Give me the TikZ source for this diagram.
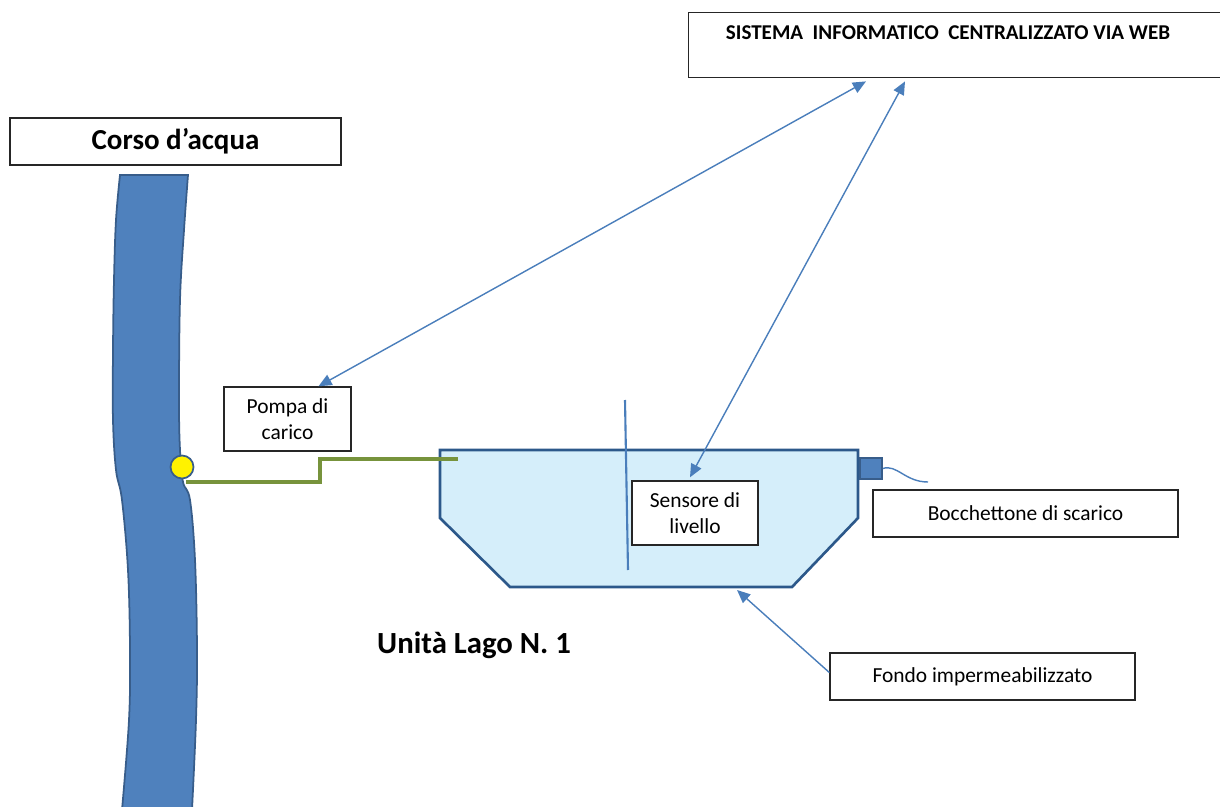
\documentclass[tikz,border=0pt]{standalone}
\usepackage{fontspec}
\setmainfont{Carlito}
\usetikzlibrary{arrows.meta}
\usetikzlibrary{calc}
\usetikzlibrary{positioning}

\definecolor{riverblue}{RGB}{79,129,189}
\definecolor{riveredge}{RGB}{56,93,138}
\definecolor{tankfill}{RGB}{213,238,250}
\definecolor{tankedge}{RGB}{44,88,138}
\definecolor{linkblue}{RGB}{74,126,187}
\definecolor{pipegreen}{RGB}{119,147,60}

\tikzset{
  box/.style={rectangle, draw=black!85, line width=0.8pt, fill=white,
    inner sep=0pt, align=center, font=\fontsize{12.2}{15}\selectfont},
  link/.style={draw=linkblue, line width=0.8pt,
    >={Triangle[length=7.5pt,width=6.5pt]}},
}

\begin{document}
\begin{tikzpicture}[x=0.02cm, y=-0.02cm]
  \useasboundingbox (0,0) rectangle (1220,807);

  % corso d'acqua
  \draw[fill=riverblue, draw=riveredge, line width=1pt]
    plot[smooth, tension=0.6] coordinates {(188,175) (184,230) (180,300)
      (179,400) (180,450) (183,482) (190,500) (195,560) (197,650)
      (196,720) (192,810)}
    -- plot[smooth, tension=0.6] coordinates {(122,810) (129,720)
      (130,650) (128,570) (122,500) (116,470) (113,420) (113,350)
      (114,280) (116,220) (120,175)}
    -- cycle;
  \node[box, font=\fontsize{16.5}{19}\selectfont\bfseries,
    minimum width=6.62cm, minimum height=0.94cm] (corso) at (175.5,141.5)
    {Corso d’acqua};

  % vasca
  \draw[fill=tankfill, draw=tankedge, line width=1.5pt]
    (440,450) -- (858,450) -- (858,518) -- (792,587) -- (510,587)
    -- (440,518) -- cycle;
  \coordinate (tankbot) at (737,590);
  \draw[linkblue, line width=1.2pt] (625,400) -- (628,570);

  % tubo di carico
  \node[circle, fill=yellow, draw=riveredge, line width=1pt,
    minimum size=0.46cm, inner sep=0pt] (pompa) at (182,467) {};
  \coordinate (pipeA) at (186,482);
  \coordinate (pipeB) at (458,459);
  \draw[pipegreen, line width=2.2pt] (pipeA) -- (320,482) -- (320,459)
    -- (pipeB);

  \node[box, minimum width=2.54cm, minimum height=1.28cm] (pompabox)
    at (287.5,419) {Pompa di\\carico};
  \node[box, minimum width=2.52cm, minimum height=1.28cm] (sensore)
    at (695,513) {Sensore di\\livello};

  % scarico
  \node[rectangle, fill=riverblue, draw=riveredge, line width=1pt,
    minimum width=0.44cm, minimum height=0.42cm, inner sep=0pt] (drain)
    at (871,468.5) {};
  \coordinate (drainend) at (928,482);
  \draw[link] (drain.east) .. controls (897,464) and (905,482) .. (drainend);
  \node[box, minimum width=6.1cm, minimum height=0.94cm] (scarico)
    at (1025.5,513.5) {Bocchettone di scarico};
  \node[box, minimum width=6.1cm, minimum height=0.94cm] (fondo)
    at (982.5,676.5) {Fondo impermeabilizzato};

  \node[font=\fontsize{17.5}{20}\selectfont\bfseries] (lago) at (474,645)
    {Unità Lago N. 1};

  % sistema web
  \node[box, minimum width=11.4cm, minimum height=1.3cm, anchor=north west]
    (web) at (688,12) {};
  \node[font=\fontsize{12}{14}\selectfont\bfseries] (webtxt)
    at ($(web.north west)+(260,21)$)
    {SISTEMA\ \ INFORMATICO\ \ CENTRALIZZATO VIA WEB};
  \coordinate (webL) at ($(web.south west)+(178,3)$);
  \coordinate (webR) at ($(web.south west)+(217,3)$);

  \draw[link, <->] ($(pompabox.north)+(31,0)$) -- (webL);
  \draw[link, <->] (webR) -- ($(sensore.north)+(-5,-3)$);
  \draw[link, ->] ($(fondo.west)+(0,-4)$) -- (tankbot);
\end{tikzpicture}
\end{document}
